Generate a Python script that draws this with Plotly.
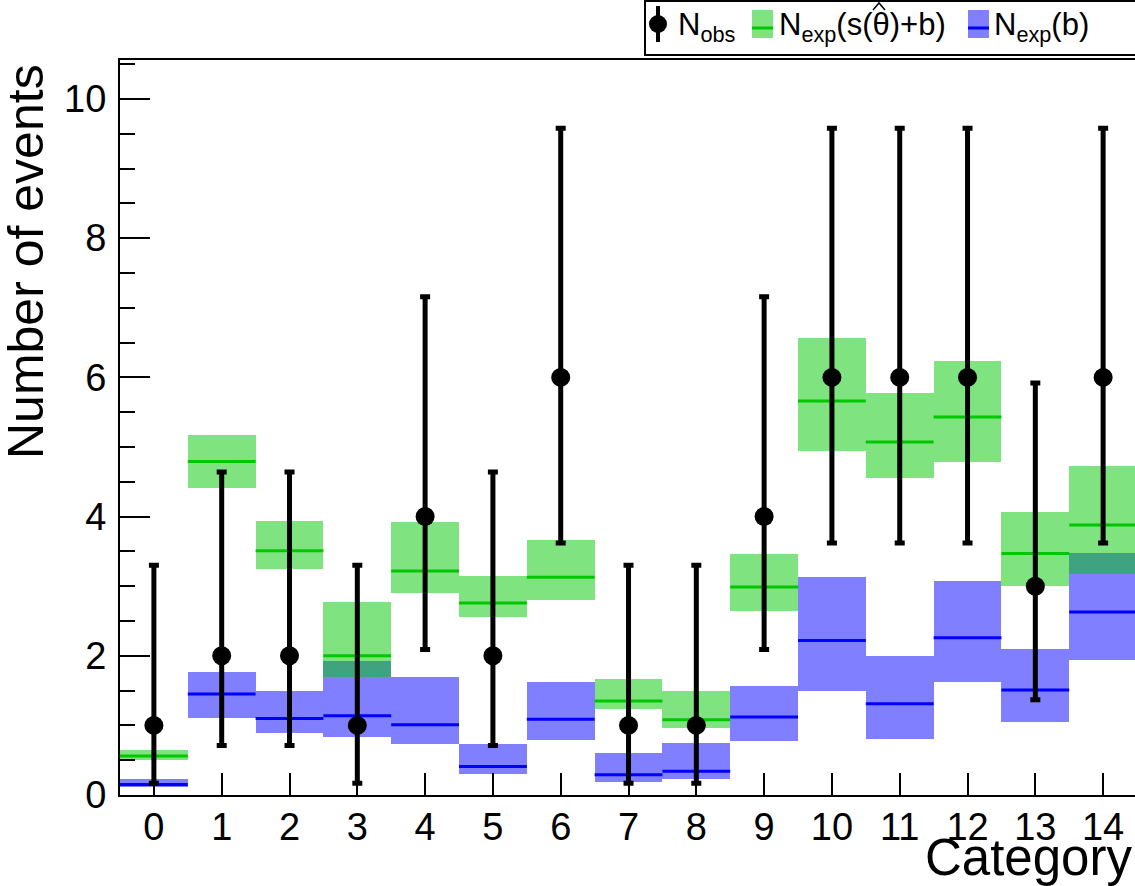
import plotly.graph_objects as go

# ---- data -----------------------------------------------------------------
categories = list(range(15))

n_obs = [1, 2, 2, 1, 4, 2, 6, 1, 1, 4, 6, 6, 6, 3, 6]
obs_lo = [0.17, 0.71, 0.71, 0.17, 2.09, 0.71, 3.62, 0.17, 0.17, 2.09, 3.62, 3.62, 3.62, 1.37, 3.62]
obs_hi = [3.30, 4.64, 4.64, 3.30, 7.16, 4.64, 9.58, 3.30, 3.30, 7.16, 9.58, 9.58, 9.58, 5.92, 9.58]

sb_central = [0.56, 4.79, 3.51, 2.00, 3.22, 2.76, 3.13, 1.35, 1.08, 2.99, 5.66, 5.07, 5.43, 3.47, 3.88]
sb_lo = [0.51, 4.41, 3.24, 1.69, 2.90, 2.56, 2.80, 1.23, 0.96, 2.64, 4.94, 4.55, 4.78, 3.00, 3.17]
sb_hi = [0.65, 5.17, 3.94, 2.78, 3.92, 3.14, 3.67, 1.67, 1.50, 3.46, 6.56, 5.77, 6.24, 4.06, 4.73]

b_central = [0.15, 1.45, 1.10, 1.14, 1.01, 0.41, 1.09, 0.29, 0.34, 1.12, 2.22, 1.31, 2.26, 1.51, 2.63]
b_lo = [0.11, 1.11, 0.89, 0.83, 0.73, 0.30, 0.79, 0.18, 0.23, 0.77, 1.50, 0.80, 1.62, 1.05, 1.94]
b_hi = [0.23, 1.77, 1.50, 1.92, 1.69, 0.73, 1.62, 0.60, 0.75, 1.57, 3.13, 1.99, 3.07, 2.10, 3.48]

y_ticks = [0, 2, 4, 6, 8, 10]

# ---- styling ----------------------------------------------------------------
FONT = "Liberation Sans, Arial, Helvetica, sans-serif"
GREEN_FILL = "rgba(0,200,0,0.5)"
GREEN_LINE = "#00c800"
BLUE_FILL = "rgba(0,0,255,0.5)"
BLUE_LINE = "#0000ff"

W, H = 1135, 886
L, R, T, B = 120, 0, 60, 91
PW, PH = W - L - R, H - T - B


def px(x):
    return (x - L) / PW


def py(y):
    return (H - B - y) / PH


def step_segments(values):
    """Horizontal segment across each bin for a per-bin central value."""
    xs, ys = [], []
    for c, v in zip(categories, values):
        xs += [c - 0.5, c + 0.5, None]
        ys += [v, v, None]
    return xs, ys


fig = go.Figure()

# uncertainty bands
fig.add_trace(go.Bar(
    x=categories, y=[h - l for l, h in zip(b_lo, b_hi)], base=b_lo, width=1,
    marker=dict(color=BLUE_FILL, line=dict(width=0)), showlegend=False,
))
fig.add_trace(go.Bar(
    x=categories, y=[h - l for l, h in zip(sb_lo, sb_hi)], base=sb_lo, width=1,
    marker=dict(color=GREEN_FILL, line=dict(width=0)), showlegend=False,
))

# central expectations
bx, by = step_segments(b_central)
fig.add_trace(go.Scatter(x=bx, y=by, mode="lines", line=dict(color=BLUE_LINE, width=3),
                         showlegend=False, cliponaxis=True))
gx, gy = step_segments(sb_central)
fig.add_trace(go.Scatter(x=gx, y=gy, mode="lines", line=dict(color=GREEN_LINE, width=3),
                         showlegend=False, cliponaxis=True))

# observed counts with Poisson intervals
fig.add_trace(go.Scatter(
    x=categories, y=n_obs, mode="markers",
    marker=dict(color="black", size=19),
    error_y=dict(type="data", symmetric=False,
                 array=[h - n for n, h in zip(n_obs, obs_hi)],
                 arrayminus=[n - l for n, l in zip(n_obs, obs_lo)],
                 color="black", thickness=5, width=5),
    showlegend=False,
))

fig.update_layout(
    width=W, height=H,
    margin=dict(l=L, r=R, t=T, b=B, pad=0),
    paper_bgcolor="white", plot_bgcolor="white",
    barmode="overlay", bargap=0,
    font=dict(family=FONT, color="black"),
    showlegend=False,
)

fig.update_xaxes(
    range=[-0.5, 14.47], tickvals=categories, ticktext=[str(c) for c in categories],
    ticks="inside", ticklen=22, tickwidth=2, tickcolor="black",
    showline=True, linecolor="black", linewidth=2, mirror=True,
    showgrid=False, zeroline=False,
    tickfont=dict(size=38, family=FONT), ticklabelstandoff=-3,
)
fig.update_yaxes(
    range=[0, 10.56], tickvals=y_ticks,
    ticks="inside", ticklen=30, tickwidth=2, tickcolor="black",
    minor=dict(dtick=0.5, ticks="inside", ticklen=15, tickwidth=2, tickcolor="black"),
    showline=True, linecolor="black", linewidth=2,
    showgrid=False, zeroline=False,
    tickfont=dict(size=38, family=FONT), ticklabelstandoff=4,
)

# axis titles
fig.add_annotation(text="Number of events", xref="paper", yref="paper",
                   x=px(26), y=py(262), xanchor="center", yanchor="middle",
                   textangle=-90, showarrow=False, font=dict(size=50, family=FONT))
fig.add_annotation(text="Category", xref="paper", yref="paper",
                   x=px(1134), y=py(888), xanchor="right", yanchor="bottom",
                   showarrow=False, font=dict(size=51, family=FONT))

# legend box
shapes = [
    dict(type="rect", xref="paper", yref="paper", x0=px(645), x1=px(1145), y0=py(1), y1=py(55),
         line=dict(color="black", width=2), fillcolor="white", layer="above"),
    # observed symbol
    dict(type="line", xref="paper", yref="paper", x0=px(658), x1=px(658), y0=py(6), y1=py(42),
         line=dict(color="black", width=4), layer="above"),
    dict(type="circle", xref="paper", yref="paper", x0=px(649), x1=px(667), y0=py(15), y1=py(33),
         line=dict(color="black", width=0), fillcolor="black", layer="above"),
    # s+b symbol
    dict(type="rect", xref="paper", yref="paper", x0=px(752), x1=px(773), y0=py(10), y1=py(38),
         line=dict(width=0), fillcolor=GREEN_FILL, layer="above"),
    dict(type="line", xref="paper", yref="paper", x0=px(752), x1=px(773), y0=py(28), y1=py(28),
         line=dict(color=GREEN_LINE, width=3), layer="above"),
    # b symbol
    dict(type="rect", xref="paper", yref="paper", x0=px(968), x1=px(989), y0=py(10), y1=py(38),
         line=dict(width=0), fillcolor=BLUE_FILL, layer="above"),
    dict(type="line", xref="paper", yref="paper", x0=px(968), x1=px(989), y0=py(28), y1=py(28),
         line=dict(color=BLUE_LINE, width=3), layer="above"),
]

legend_items = [
    (676, "N<sub>obs</sub>"),
    (777, "N<sub>exp</sub>(s(θ)+b)"),
    (992, "N<sub>exp</sub>(b)"),
]
for x, txt in legend_items:
    fig.add_annotation(text=txt, xref="paper", yref="paper", x=px(x), y=py(27),
                       xanchor="left", yanchor="middle", showarrow=False,
                       font=dict(size=31, family=FONT))

# circumflex over the theta in the s+b label
hat = [(873, 10), (879, 3), (885, 10)]
hat_path = "M " + " L ".join(f"{px(a)},{py(b)}" for a, b in hat)
shapes.append(dict(type="path", xref="paper", yref="paper", path=hat_path,
                   line=dict(color="black", width=1.5), layer="above"))
fig.update_layout(shapes=shapes)

fig.write_html("out.html")
